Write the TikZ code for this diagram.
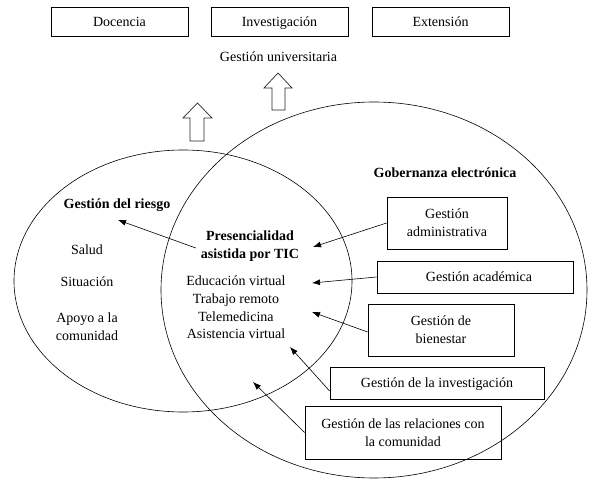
\documentclass[tikz,border=0pt]{standalone}
\usepackage{fontspec}
\setmainfont{Liberation Serif}
\usetikzlibrary{arrows.meta}
\begin{document}
\begin{tikzpicture}[x=1pt,y=-1pt,
  txt/.style={font=\fontsize{14}{17.7}\selectfont, inner sep=0pt, align=center},
  bld/.style={font=\bfseries\fontsize{14}{17.7}\selectfont, inner sep=0pt, align=center},
  box/.style={draw, line width=0.8pt, inner sep=0pt, align=center, font=\fontsize{14}{18}\selectfont},
  onebox/.style={box, text height=11.5pt, text depth=2pt},
  ell/.style={line width=0.6pt},
  arr/.style={line width=0.6pt, -{Latex[length=8pt,width=6pt]}},
  hollow/.style={draw=black!85, line width=0.7pt, fill=white}]
\useasboundingbox (0,0) rectangle (598,486);
\fill[white] (0,0) rectangle (598,486);

% top boxes
\node[onebox, minimum width=137pt, minimum height=29pt] (doc) at (119.5,21.5) {Docencia};
\node[onebox, minimum width=137pt, minimum height=29pt] (inves) at (279.5,21.5) {Investigación};
\node[onebox, minimum width=137pt, minimum height=29pt] (ext) at (440.5,21.5) {Extensión};
\node[txt] (univ) at (278.5,57) {Gestión universitaria};

% hollow arrows
\draw[hollow] (278,73) -- (292,88) -- (285,88) -- (285,110) -- (272,110) -- (272,88) -- (264,88) -- cycle;
\draw[hollow] (197.5,103) -- (212,118) -- (204,118) -- (204,141) -- (190,141) -- (190,118) -- (183,118) -- cycle;

% ellipses
\draw[ell] (374,290) ellipse [x radius=213pt, y radius=188pt];
\draw[ell] (183,281) ellipse [x radius=169pt, y radius=131pt];

% left ellipse texts
\node[bld] (riesgo) at (117,205) {Gestión del riesgo};
\node[txt] (salud) at (87,250) {Salud};
\node[txt] (sit) at (87,282) {Situación};
\node[txt] (apoyo) at (87,326.5) {Apoyo a la\\comunidad};

% center texts
\node[bld] (pres) at (250,246) {Presencialidad\\asistida por TIC};
\node[txt] (lista) at (236,307.5) {Educación virtual\\Trabajo remoto\\Telemedicina\\Asistencia virtual};

% right
\node[bld] (gob) at (445,173) {Gobernanza electrónica};
\node[box, minimum width=120pt, minimum height=52pt] (adm) at (447,223) {Gestión\\administrativa};
\node[onebox, minimum width=196pt, minimum height=32pt] (aca) at (475,277) {\hspace*{8pt}Gestión académica};
\node[box, minimum width=146pt, minimum height=52pt] (bien) at (441,330) {Gestión de\\bienestar};
\node[onebox, minimum width=214pt, minimum height=32pt] (inv) at (437,383) {Gestión de la investigación};
\node[box, minimum width=196pt, minimum height=53pt] (rel) at (403,432.5) {Gestión de las relaciones con\\la comunidad};

% arrow tips
\coordinate (t1) at (118,220);
\coordinate (t2) at (313,247);
\coordinate (t3) at (312,283);
\coordinate (t4) at (312,312);
\coordinate (t5) at (290,347);
\coordinate (t6) at (253,382);

\draw[arr] ([xshift=-5pt,yshift=-2pt]pres.west) -- (t1);
\draw[arr] (adm.west) -- (t2);
\draw[arr] (aca.west) -- (t3);
\draw[arr] ([yshift=-2pt]bien.west) -- (t4);
\draw[arr] ([yshift=-8pt]inv.west) -- (t5);
\draw[arr] (rel.west) -- (t6);
\end{tikzpicture}
\end{document}
